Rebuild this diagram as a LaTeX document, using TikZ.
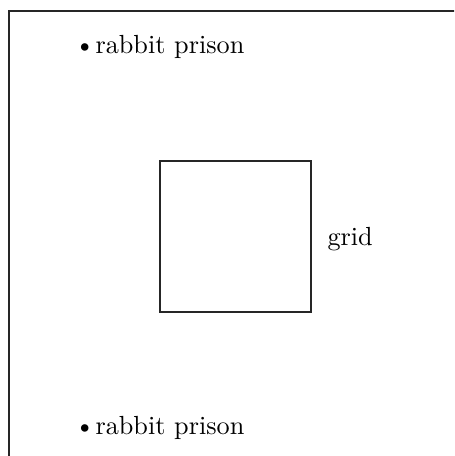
\documentclass[tikz,border=0pt]{standalone}
\begin{document}
\begin{tikzpicture}[x=0.3817pt,y=-0.3817pt,
  lbl/.style={inner sep=0pt,anchor=base west},
  line/.style={draw=black!85,line width=0.4pt}]
\useasboundingbox (0,0) rectangle (454,456);
\clip (0,0) rectangle (454,456);
\draw[line] (9,600) -- (9,11) -- (600,11);
\node[lbl] (topb) at (74,54) {\textbullet};
\node[lbl] (top) at (95,54) {rabbit prison};
\node[lbl] (botb) at (74,434) {\textbullet};
\node[lbl] (bot) at (95,434) {rabbit prison};
\draw[line] (160,161) rectangle (311,312);
\coordinate (sq) at (235.5,236.5);
\node[lbl] (grid) at (327,246) {grid};
\end{tikzpicture}
\end{document}
